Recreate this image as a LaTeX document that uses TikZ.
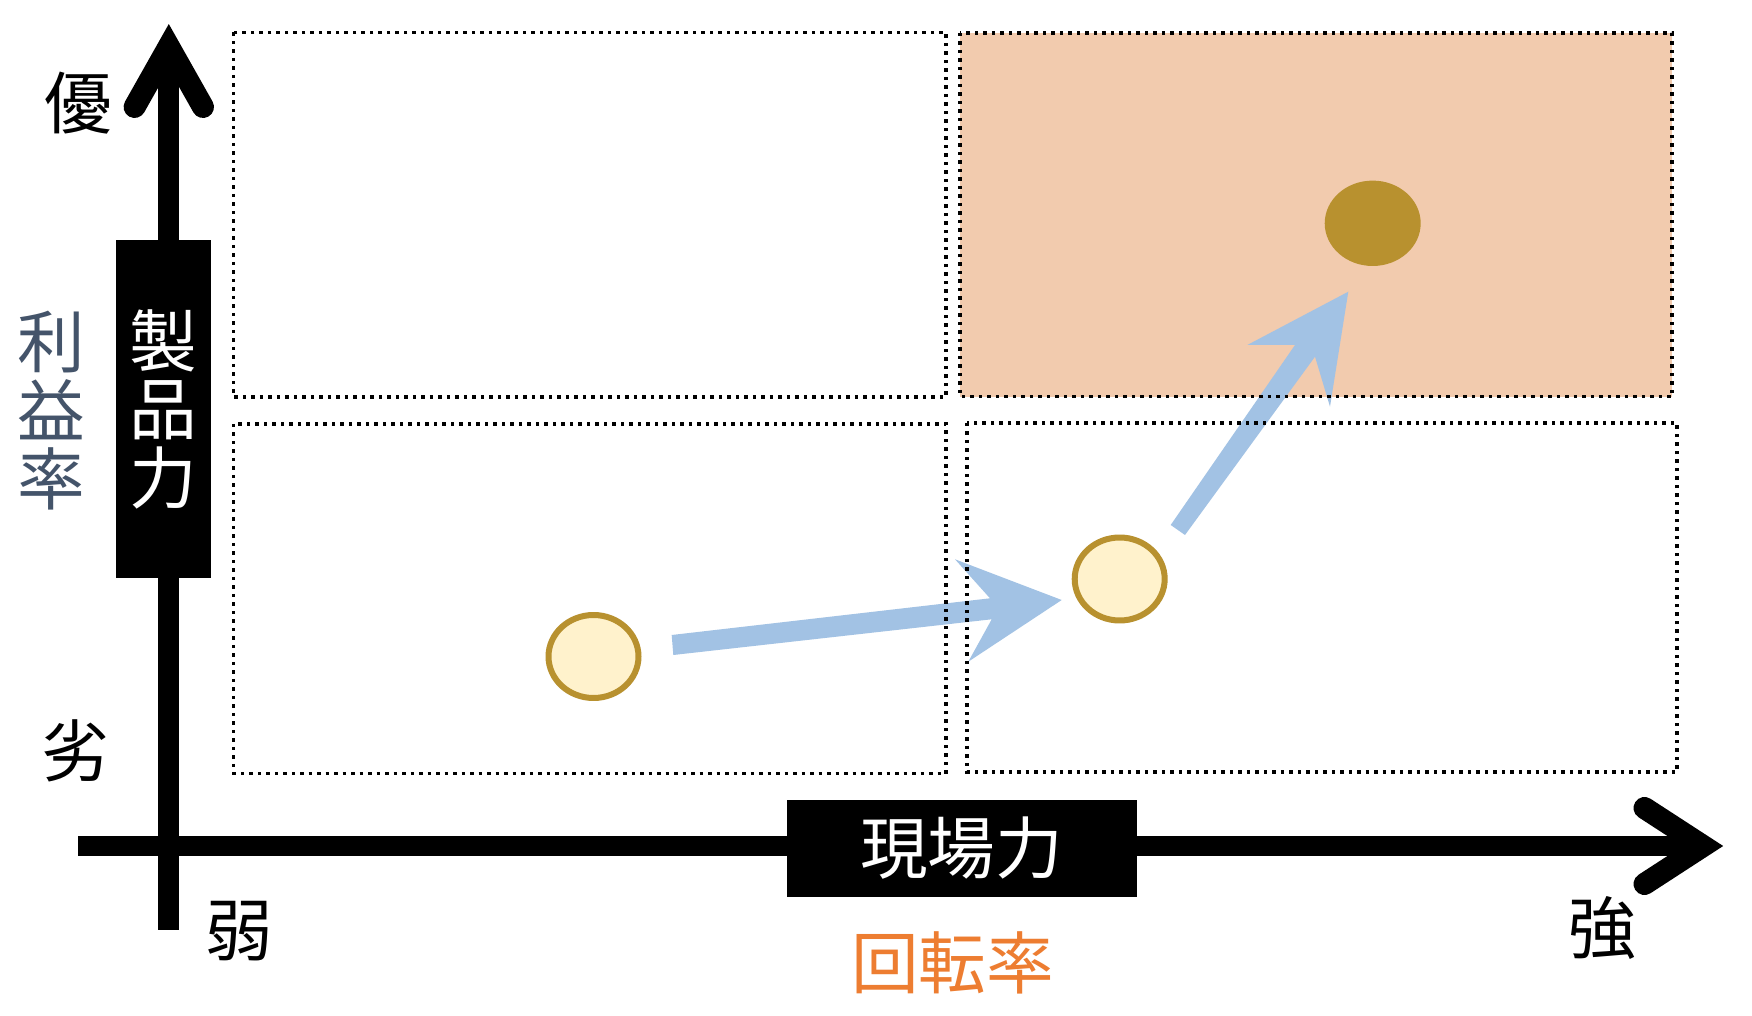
\documentclass[tikz,border=0pt]{standalone}
\usepackage{fontspec}
\setmainfont{Noto Sans CJK JP}
\usetikzlibrary{shapes.geometric,calc}
\definecolor{peach}{HTML}{F2CBAE}
\definecolor{bluea}{HTML}{A2C2E4}
\definecolor{gold}{HTML}{B8912F}
\definecolor{cream}{HTML}{FFF2CC}
\definecolor{slate}{HTML}{44546A}
\definecolor{orng}{HTML}{ED7D31}
\tikzset{
  lbl/.style={font=\fontsize{38.5pt}{39pt}\selectfont, inner sep=0pt, align=center},
  dotbox/.style={draw=black, line width=0.07cm, dash pattern=on 0.07cm off 0.1cm},
  axisline/.style={draw=black, line width=0.42cm},
  chev/.style={draw=black, line width=0.44cm, line cap=round, line join=miter},
  blk/.style={lbl, fill=black, text=white},
  ring/.style={ellipse, draw=gold, line width=0.12cm, fill=cream, minimum width=1.8cm, minimum height=1.66cm, inner sep=0pt},
  golddot/.style={ellipse, fill=gold, minimum width=1.92cm, minimum height=1.708cm, inner sep=0pt},
  blueshape/.style={fill=bluea}
}
\begin{document}
\begin{tikzpicture}[x=0.02cm,y=-0.02cm]
\useasboundingbox (0,0) rectangle (1752,1016);
\fill[white] (0,0) rectangle (1752,1016);
% highlighted quadrant
\fill[peach] (960,33) rectangle (1672,396.7);
% ellipses
\node[ring] (e1) at (593.5,656.5) {};
\node[ring] (e2) at (1119.7,579) {};
\node[golddot] (e3) at (1372.7,223.3) {};
% blue arrows
\coordinate (a1s) at (672.5,645);
\coordinate (a1t) at (1061.7,600);
\fill[blueshape] (671.7,635) -- (990,598.3) -- (955,559.3) -- (a1t) -- (968.3,661.7) -- (991.7,619.3) -- (673.3,655) -- cycle;
\coordinate (a2s) at (1177.8,530);
\coordinate (a2t) at (1348.3,291.7);
\fill[blueshape] (1170.7,525) -- (1295,345) -- (1247.3,345) -- (a2t) -- (1330,406.7) -- (1315,356.7) -- (1185,535) -- cycle;
% dotted quadrant borders
\draw[dotbox] (233.5,32.5) rectangle (946,397);
\draw[dotbox] (960,33) rectangle (1672,396.7);
\draw[dotbox] (233.5,424) rectangle (946,773.7);
\draw[dotbox] (967,423) rectangle (1677,772);
% axes
\coordinate (vbot) at (168.8,929.7);
\coordinate (vtip) at (168.8,46.4);
\draw[axisline] (vbot) -- (vtip);
\draw[chev] ($(vtip)+(-34.2,60.6)$) -- (vtip) -- ($(vtip)+(34.2,60.6)$);
\coordinate (hl) at (78,846);
\coordinate (htip) at (1703,846);
\draw[axisline] (hl) -- (htip);
\draw[chev] ($(htip)+(-58.5,-38)$) -- (htip) -- ($(htip)+(-58.5,38)$);
% axis label boxes
\node[blk, minimum width=1.9cm, minimum height=6.76cm] (pbox) at (163.4,409) {製\\品\\力};
\node[blk, minimum width=7cm, minimum height=1.934cm] (gbox) at (961.7,848.3) {\raisebox{0.13cm}{現場力}};
% labels
\node[lbl] (yu) at (78,103) {優};
\node[lbl] (re) at (75,751) {劣};
\node[lbl] (ja) at (239,931) {弱};
\node[lbl] (ky) at (1602.5,928) {強};
\node[lbl, text=orng] (kt) at (952.5,962.5) {回転率};
\node[lbl, text=slate] (rr) at (51.7,411) {利\\益\\率};
\end{tikzpicture}
\end{document}
